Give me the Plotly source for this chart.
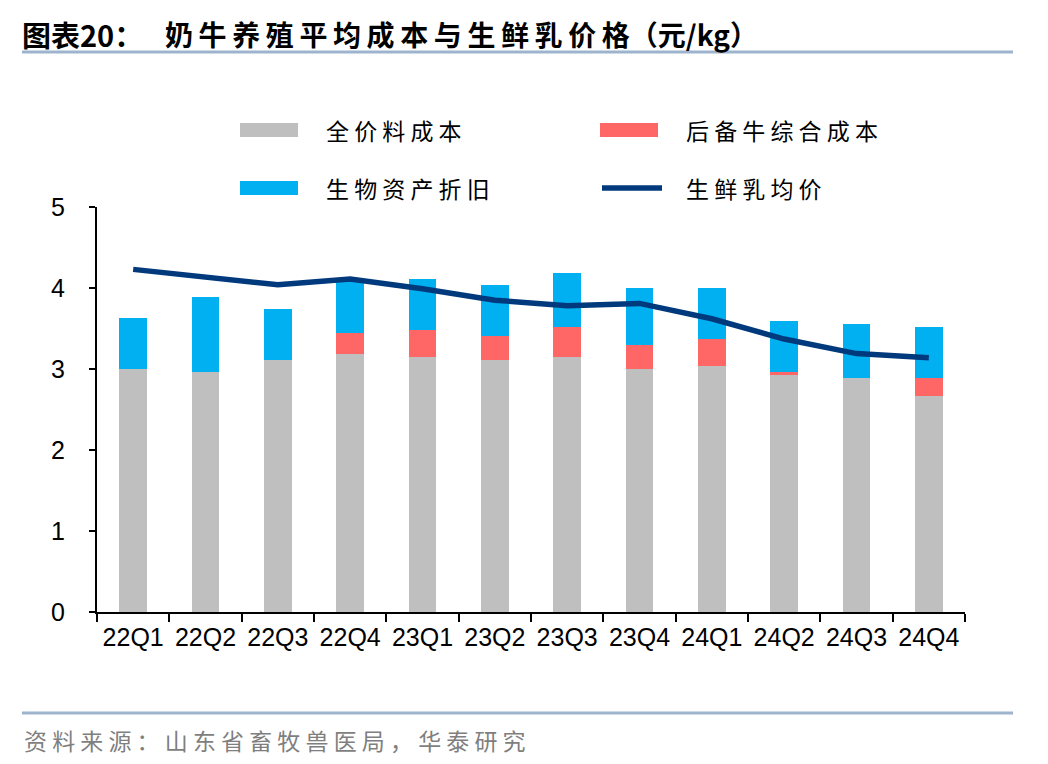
import plotly.graph_objects as go

categories = ["22Q1", "22Q2", "22Q3", "22Q4", "23Q1", "23Q2", "23Q3", "23Q4",
              "24Q1", "24Q2", "24Q3", "24Q4"]
feed_cost = [3.00, 2.96, 3.11, 3.19, 3.15, 3.11, 3.15, 3.00, 3.04, 2.93, 2.89, 2.67]
heifer_cost = [0.00, 0.00, 0.00, 0.25, 0.33, 0.30, 0.37, 0.30, 0.33, 0.03, 0.00, 0.22]
depreciation = [0.63, 0.93, 0.63, 0.63, 0.63, 0.63, 0.67, 0.70, 0.63, 0.63, 0.67, 0.63]
milk_price = [4.23, 4.14, 4.04, 4.11, 3.99, 3.85, 3.78, 3.81, 3.62, 3.37, 3.19, 3.14]
y_ticks = [0, 1, 2, 3, 4, 5]

names = ["全价料成本", "后备牛综合成本", "生物资产折旧", "生鲜乳均价"]
colors = ["#BFBFBF", "#FF6666", "#00B0F0", "#003A7D"]

fig = go.Figure()
for vals, nm, c in zip([feed_cost, heifer_cost, depreciation], names[:3], colors[:3]):
    fig.add_trace(go.Bar(x=categories, y=vals, name=nm, marker=dict(color=c, line=dict(width=0)),
                         showlegend=False))
fig.add_trace(go.Scatter(x=categories, y=milk_price, name=names[3], mode="lines",
                         line=dict(color=colors[3], width=5.5), showlegend=False))

OFF = 8  # page body margin
W, H = 1048 - OFF, 764 - OFF
L, R, T, B = 97 - OFF, 965 - OFF, 207 - OFF, 612 - OFF

fig.update_layout(
    width=W, height=H,
    margin=dict(l=L, r=W - R, t=T, b=H - B),
    barmode="stack", bargap=0.62,
    plot_bgcolor="white", paper_bgcolor="white",
    font=dict(family="Liberation Sans, Arial, sans-serif", color="black"),
    xaxis=dict(showline=True, linecolor="black", linewidth=2, ticks="outside",
               tickson="boundaries", ticklen=8, tickwidth=2, tickcolor="black",
               tickfont=dict(size=25), showgrid=False, ticklabelstandoff=2),
    yaxis=dict(range=[0, 5], tickvals=y_ticks, showline=True, linecolor="black",
               linewidth=2, ticks="outside", ticklen=6, tickwidth=2, tickcolor="black",
               tickfont=dict(size=25), showgrid=False, zeroline=False,
               ticklabelstandoff=19),
)


def px(x):
    # reference pixel x -> paper coordinate (relative to plot area)
    return (x - OFF - L) / (R - L)


def py(y):
    return (B - (y - OFF)) / (B - T)


def spaced(s, sep="\u2009"):
    return sep.join(s)


shapes = []
annotations = []
for yy in (52, 713):
    shapes.append(dict(type="line", xref="paper", yref="paper",
                       x0=px(22), x1=px(1013), y0=py(yy), y1=py(yy),
                       line=dict(color="#9DB3CE", width=3)))
annotations.append(dict(text="<b>图表20：</b>",
                        xref="paper", yref="paper", x=px(20), y=py(34),
                        xanchor="left", yanchor="middle", showarrow=False,
                        font=dict(family="Noto Sans CJK SC", size=29, color="black")))
annotations.append(dict(text="<b>" + spaced("奶牛养殖平均成本与生鲜乳价格") + "（元/kg）</b>",
                        xref="paper", yref="paper", x=px(163), y=py(34),
                        xanchor="left", yanchor="middle", showarrow=False,
                        font=dict(family="Noto Sans CJK SC", size=28, color="black")))
annotations.append(dict(text=spaced("资料来源：山东省畜牧兽医局，华泰研究", " "),
                        xref="paper", yref="paper", x=px(22), y=py(740),
                        xanchor="left", yanchor="middle", showarrow=False,
                        font=dict(family="Noto Sans CJK SC", size=23, color="#7F7F7F")))

legend_pos = [(240, 130), (600, 130), (240, 188), (600, 188)]
for i, ((lx, ly), nm, c) in enumerate(zip(legend_pos, names, colors)):
    if i < 3:
        shapes.append(dict(type="rect", xref="paper", yref="paper",
                           x0=px(lx), x1=px(lx + 58), y0=py(ly + 7), y1=py(ly - 7),
                           fillcolor=c, line=dict(width=0)))
    else:
        shapes.append(dict(type="line", xref="paper", yref="paper",
                           x0=px(lx + 2), x1=px(lx + 62), y0=py(ly), y1=py(ly),
                           line=dict(color=c, width=5.5)))
    annotations.append(dict(text=spaced(nm, " "), xref="paper", yref="paper",
                            x=px(lx + 84), y=py(ly),
                            xanchor="left", yanchor="middle", showarrow=False,
                            font=dict(family="Noto Sans CJK SC", size=23, color="black")))

fig.update_layout(shapes=shapes, annotations=annotations)
fig.write_html("out.html")
